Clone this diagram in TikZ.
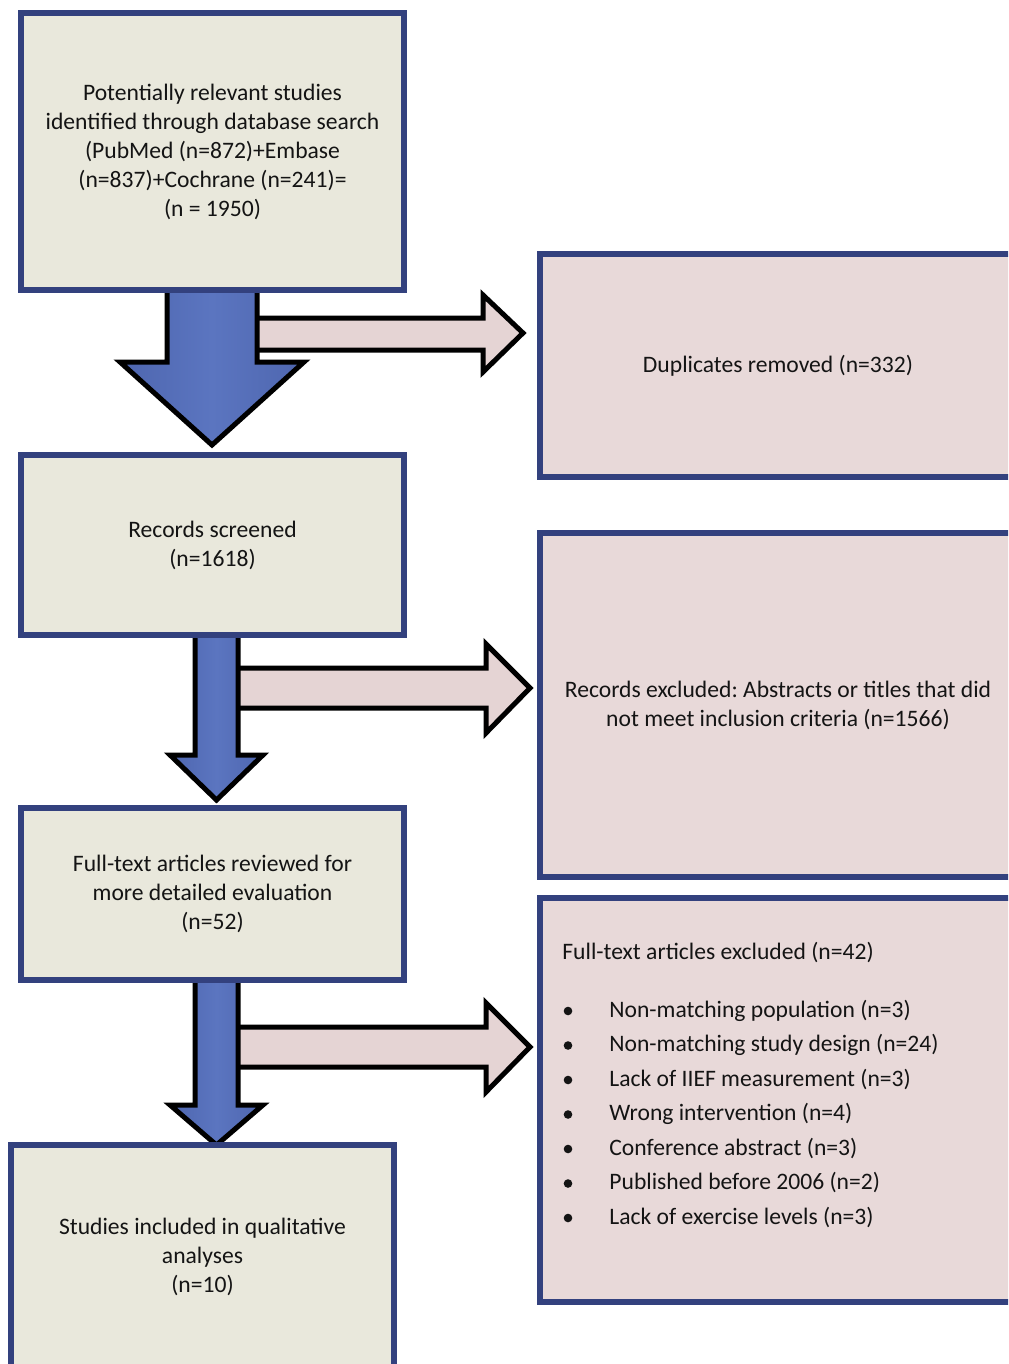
\documentclass[tikz,border=0pt]{standalone}
\usepackage{fontspec}
\setmainfont{Carlito}
\frenchspacing
\definecolor{bordblue}{HTML}{33417E}
\definecolor{lfill}{HTML}{E9E8DC}
\definecolor{rfill}{HTML}{E8D9D9}
\definecolor{arrblue}{HTML}{4E66AF}
\definecolor{arrblueL}{HTML}{5B75C0}
\definecolor{arrpink}{HTML}{E5D4D4}
\definecolor{txt}{HTML}{141414}
\begin{document}
\begin{tikzpicture}[x=0.5pt,y=-0.5pt,
  boxbase/.style={draw=bordblue, line width=3.2pt, inner sep=0pt, text=txt,
    font=\fontsize{11.8}{14.5}\selectfont, align=center},
  lbox/.style={boxbase, fill=lfill, minimum width=191.5pt},
  rbox/.style={boxbase, fill=rfill, minimum width=238pt},
  downarrow/.style={draw=black, line width=2.5pt, line join=miter,
    left color=arrblue, right color=arrblue, middle color=arrblueL, shading angle=90},
  rightarrow/.style={draw=black, line width=2.5pt, line join=miter, fill=arrpink},
  listtxt/.style={anchor=base west, inner sep=0pt, text=txt, font=\fontsize{11.8}{14.5}\selectfont}
]
\useasboundingbox (0,0) rectangle (1008,1364);
\clip (0,0) rectangle (1008,1364);
\fill[white] (0,0) rectangle (1008,1364);

% right-pointing arrows
\draw[rightarrow] (245,318) -- (483,318) -- (483,295) -- (523,333) -- (483,372) -- (483,350) -- (245,350) -- cycle;
\draw[rightarrow] (225,668) -- (486,668) -- (486,644) -- (530,688) -- (486,733) -- (486,708) -- (225,708) -- cycle;
\draw[rightarrow] (225,1027) -- (486,1027) -- (486,1003) -- (530,1047) -- (486,1092) -- (486,1067) -- (225,1067) -- cycle;

% down arrows
\draw[downarrow] (167,285) -- (257,285) -- (257,362) -- (304,362) -- (212,445) -- (120,362) -- (167,362) -- cycle;
\draw[downarrow] (195,630) -- (238,630) -- (238,755) -- (263,755) -- (216.5,800) -- (170,755) -- (195,755) -- cycle;
\draw[downarrow] (195,975) -- (238,975) -- (238,1105) -- (263,1105) -- (216.5,1145) -- (170,1105) -- (195,1105) -- cycle;

% left boxes
\node[lbox, minimum height=138.5pt] (ident) at (212.5,151.5)
  {Potentially relevant studies\\identified through database search\\(PubMed (n=872)+Embase\\(n=837)+Cochrane (n=241)=\\(n = 1950)};
\node[lbox, minimum height=90pt] (screen) at (212.5,545) {Records screened\\(n=1618)};
\node[lbox, minimum height=86pt] (full) at (212.5,894)
  {Full-text articles reviewed for\\more detailed evaluation\\(n=52)};
\node[lbox, minimum height=112pt] (incl) at (202.5,1257)
  {Studies included in qualitative\\analyses\\(n=10)};

% right boxes
\node[rbox, minimum height=111.5pt] (dup) at (778,365.5) {Duplicates removed (n=332)};
\node[rbox, minimum height=172pt] (recex) at (778,705)
  {Records excluded: Abstracts or titles that did\\not meet inclusion criteria (n=1566)};
\node[rbox, minimum height=202pt] (ftex) at (778,1100) {};

\node[listtxt] (fthead) at (562,959) {Full-text articles excluded (n=42)};
\foreach \t [count=\i] in {Non-matching population (n=3),
  Non-matching study design (n=24),
  Lack of IIEF measurement (n=3),
  Wrong intervention (n=4),
  Conference abstract (n=3),
  Published before 2006 (n=2),
  Lack of exercise levels (n=3)} {
  \node[listtxt] (item\i) at (609,{1017+34.5*(\i-1)}) {\t};
  \fill[txt] (568,{1011+34.5*(\i-1)}) circle (4.3);
}
\end{tikzpicture}
\end{document}
